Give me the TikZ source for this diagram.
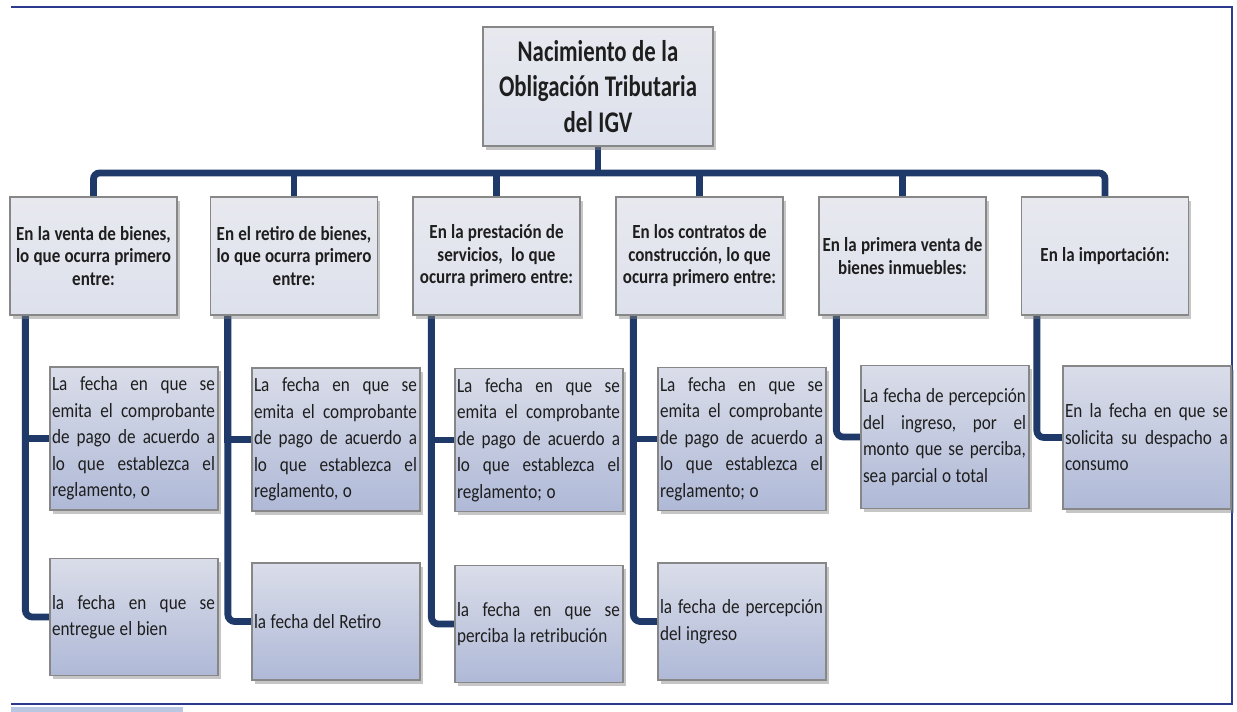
\documentclass[tikz,border=0pt]{standalone}
\usepackage{fontspec}
\setmainfont{Carlito}[FakeStretch=0.85]
\newfontfamily\rootfam{Carlito}[FakeStretch=0.76]
\usetikzlibrary{shadows,backgrounds,calc}
\definecolor{conncol}{HTML}{1F3A68}
\definecolor{framecol}{HTML}{2B3A8C}
\definecolor{boxtop}{HTML}{DADDE9}
\definecolor{boxbot}{HTML}{AFB9D7}
\definecolor{ptop}{HTML}{E8E9EF}
\definecolor{pmid}{HTML}{CED4E6}
\definecolor{pbot}{HTML}{DDE1EC}
\definecolor{boxline}{HTML}{878787}
\definecolor{txtcol}{HTML}{1E1E1E}
\definecolor{stripcol}{HTML}{B9C7E3}
\newcommand\jl[1]{\leavevmode\hbox to 163pt{#1}\\}
\newcommand\rootfnt{\rootfam\fontsize{30}{35.5}\selectfont\bfseries\spaceskip=5.5pt plus 2pt minus 1pt\relax}
\newcommand\pfnt{\fontsize{20}{22.5}\selectfont\bfseries\spaceskip=4.2pt plus 2pt minus 1pt\relax}
\newcommand\cfnt{\fontsize{20.2}{26.5}\selectfont}
\tikzset{
  box/.style={draw=boxline, line width=1.3pt, top color=boxtop, bottom color=boxbot,
    drop shadow={shadow xshift=2.5pt, shadow yshift=-3.5pt, opacity=0.45},
    inner xsep=2pt, inner ysep=2pt, text=txtcol},
  lightbox/.style={box, top color=ptop, middle color=pmid, bottom color=pbot},
  rootbox/.style={lightbox, minimum width=230pt, minimum height=119pt,
    align=center, font=\rootfnt},
  pbox/.style={lightbox, minimum width=167pt, minimum height=118pt,
    align=center, font=\pfnt},
  cbox/.style={box, minimum width=168pt, text width=164pt,
    align=left, font=\cfnt},
  abox/.style={cbox, minimum height=143pt},
  bbox/.style={cbox, minimum height=117pt},
  conn/.style={draw=conncol, line width=6.8pt},
  frameline/.style={draw=framecol, line width=2.8pt}
}
\newcommand\sk{\spaceskip=4.6pt plus 1pt minus 1pt\relax}
\begin{document}
\begin{tikzpicture}[x=1pt,y=-1pt]
\useasboundingbox (0,0) rectangle (1237,712);
% frame
\draw[frameline] (11,7) -- (1232,7) -- (1232,704) -- (11,704);
\fill[stripcol] (11,707) rectangle (183,712);

% root
\node[rootbox] (root) at (598,86.5) {Nacimiento de la\\Obligación Tributaria\\del IGV};

% level 1
\node[pbox] (p1) at (93.5,256) {En la venta de bienes,\\lo que ocurra primero\\entre:};
\node[pbox] (p2) at (294,256) {En el retiro de bienes,\\lo que ocurra primero\\entre:};
\node[pbox] (p3) at (496.5,256) {En la prestación de\\servicios,\ \ lo que\\ocurra primero entre:};
\node[pbox] (p4) at (699.5,256) {En los contratos de\\construcción, lo que\\ocurra primero entre:};
\node[pbox] (p5) at (902.5,256) {En la primera venta de\\bienes inmuebles:};
\node[pbox] (p6) at (1105,256) {En la importación:};

% level 2
\node[abox] (c1a) at (134,438.5) {\jl{La\hfill fecha\hfill en\hfill que\hfill se}\jl{emita\hfill el\hfill comprobante}\jl{de\hfill pago\hfill de\hfill acuerdo\hfill a}\jl{lo\hfill que\hfill establezca\hfill el}\sk reglamento, o};
\node[bbox] (c1b) at (134,617) {\jl{la\hfill fecha\hfill en\hfill que\hfill se}\sk entregue el bien};
\node[abox] (c2a) at (336,439.5) {\jl{La\hfill fecha\hfill en\hfill que\hfill se}\jl{emita\hfill el\hfill comprobante}\jl{de\hfill pago\hfill de\hfill acuerdo\hfill a}\jl{lo\hfill que\hfill establezca\hfill el}\sk reglamento, o};
\node[bbox] (c2b) at (336,621.5) {\sk la fecha del Retiro};
\node[abox] (c3a) at (539,440) {\jl{La\hfill fecha\hfill en\hfill que\hfill se}\jl{emita\hfill el\hfill comprobante}\jl{de\hfill pago\hfill de\hfill acuerdo\hfill a}\jl{lo\hfill que\hfill establezca\hfill el}\sk reglamento; o};
\node[bbox] (c3b) at (539,624) {\jl{la\hfill fecha\hfill en\hfill que\hfill se}\sk perciba la retribución};
\node[abox] (c4a) at (742,439) {\jl{La\hfill fecha\hfill en\hfill que\hfill se}\jl{emita\hfill el\hfill comprobante}\jl{de\hfill pago\hfill de\hfill acuerdo\hfill a}\jl{lo\hfill que\hfill establezca\hfill el}\sk reglamento; o};
\node[bbox] (c4b) at (742,621.5) {\jl{la\hfill fecha\hfill de\hfill percepción}\sk del ingreso};
\node[abox] (c5a) at (945,437) {\jl{La\hfill fecha\hfill de\hfill percepción}\jl{del\hfill ingreso,\hfill por\hfill el}\jl{monto\hfill que\hfill se\hfill perciba,}\sk sea parcial o total};
\node[abox] (c6a) at (1147,437.5) {\jl{En\hfill la\hfill fecha\hfill en\hfill que\hfill se}\jl{solicita\hfill su\hfill despacho\hfill a}\sk consumo};

\begin{scope}[on background layer]
  \coordinate (busy) at (0,173);
  \draw[conn] (root.south) -- (root.south |- busy);
  \draw[conn, rounded corners=6pt] (p1.north) -- (p1.north |- busy) -- (p6.north |- busy) -- (p6.north);
  \foreach \p in {p2,p3,p4,p5} {
    \draw[conn] (\p.north) -- (\p.north |- busy);
  }
  % left trunks
  \coordinate (t1) at ($(p1.south west)+(16,0)$);
  \coordinate (t2) at ($(p2.south west)+(18,0)$);
  \coordinate (t3) at ($(p3.south west)+(19,0)$);
  \coordinate (t4) at ($(p4.south west)+(18,0)$);
  \coordinate (t5) at ($(p5.south west)+(18,0)$);
  \coordinate (t6) at ($(p6.south west)+(16,0)$);
  \foreach \t/\a/\b in {t1/c1a/c1b, t2/c2a/c2b, t3/c3a/c3b, t4/c4a/c4b} {
    \draw[conn] (\t) |- (\a.west);
    \draw[conn, rounded corners=7pt] (\t) |- (\b.west);
  }
  \draw[conn, rounded corners=7pt] (t5) |- (c5a.west);
  \draw[conn, rounded corners=7pt] (t6) |- (c6a.west);
\end{scope}
\end{tikzpicture}
\end{document}
